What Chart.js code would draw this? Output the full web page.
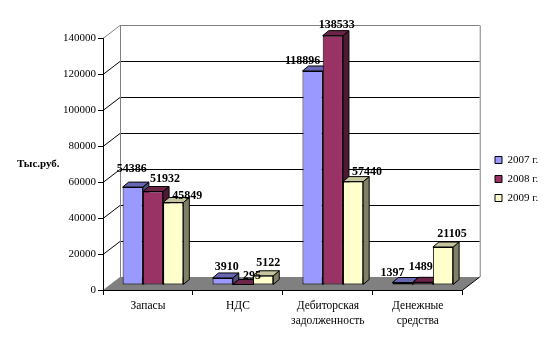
<!DOCTYPE html>
<html>
<head>
<meta charset="utf-8">
<title>Chart</title>
<script src="https://cdn.jsdelivr.net/npm/chart.js@4"></script>
<style>
html, body { margin: 0; padding: 0; background: #fff; }
canvas { display: block; }
</style>
</head>
<body>
<canvas id="myChart" width="546" height="355"></canvas>
<script>
var categories = ['Запасы', 'НДС', ['Дебиторская', 'задолженность'], ['Денежные', 'средства']];
var years = ['2007 г.', '2008 г.', '2009 г.'];
var values2007 = [54386, 3910, 118896, 1397];
var values2008 = [51932, 295, 138533, 1489];
var values2009 = [45849, 5122, 57440, 21105];
var yAxisTitle = 'Тыс.руб.';

var frontColors = ['#9999ff', '#993366', '#ffffcc'];
var topColors = ['#6666b3', '#6b2447', '#c4c49e'];
var sideColors = ['#4d4d80', '#4d1a33', '#808066'];

// where excel left each value label, relative to the top centre of its bar
var labelNudge = [
    [[-1, -18], [4, -11], [-10, -10], [-10, -10]],
    [[12, -13], [9, -9], [4, -11], [-2, -15]],
    [[14, -7], [5, -13], [14, -10], [9, -13]]
];

var depthX = 17, depthY = 13;   // back wall offset
var barX = 5, barY = 5;         // bars stand a bit behind the front edge
var sideX = 6, sideY = 5;       // bar depth

function poly(ctx, pts, fill, stroke) {
    ctx.beginPath();
    ctx.moveTo(pts[0][0], pts[0][1]);
    for (var i = 1; i < pts.length; i++) ctx.lineTo(pts[i][0], pts[i][1]);
    ctx.closePath();
    if (fill) { ctx.fillStyle = fill; ctx.fill(); }
    if (stroke) { ctx.strokeStyle = stroke; ctx.lineWidth = 1; ctx.stroke(); }
}

function line(ctx, x1, y1, x2, y2, color) {
    ctx.beginPath();
    ctx.moveTo(x1, y1);
    ctx.lineTo(x2, y2);
    ctx.strokeStyle = color;
    ctx.lineWidth = 1;
    ctx.stroke();
}

var walls3d = {
    id: 'walls3d',
    afterLayout: function (chart) {
        // legend sits away from the plot, not against it
        var lg = chart.legend;
        var w = lg.width, h = lg.height;
        lg.left = 487;
        lg.right = lg.left + w;
        lg.top -= 5;
        lg.bottom = lg.top + h;
        if (lg.adjustHitBoxes) lg.adjustHitBoxes();
    },
    beforeDraw: function (chart) {
        var ctx = chart.ctx, a = chart.chartArea, y = chart.scales.y;
        var L = a.left, R = a.right, B = a.bottom;
        ctx.save();
        poly(ctx, [[L, B], [L + depthX, B - depthY], [R + depthX, B - depthY], [R, B]], '#808080');
        y.ticks.forEach(function (t) {
            var py = Math.round(y.getPixelForValue(t.value)) + 0.5;
            if (t.value === 0) return;
            var c = t.value === y.max ? '#808080' : '#000';
            line(ctx, L, py, L + depthX, py - depthY, c);
            line(ctx, L + depthX, py - depthY, R + depthX, py - depthY, c);
        });
        var top = Math.round(y.getPixelForValue(y.max)) + 0.5 - depthY;
        line(ctx, L + depthX + 0.5, top, L + depthX + 0.5, B - depthY, '#808080');
        line(ctx, R + depthX + 0.5, top, R + depthX + 0.5, B - depthY, '#808080');
        line(ctx, R, B, R + depthX, B - depthY, '#000');
        ctx.font = 'bold 11px "Liberation Serif"';
        ctx.fillStyle = '#000';
        ctx.textAlign = 'left';
        ctx.textBaseline = 'middle';
        ctx.fillText(yAxisTitle, 17, 164);
        ctx.restore();
    },
    beforeDatasetsDraw: function (chart) {
        var ctx = chart.ctx;
        ctx.save();
        ctx.translate(barX, -barY);
        chart.data.datasets.forEach(function (ds, d) {
            chart.getDatasetMeta(d).data.forEach(function (el) {
                var l = el.x - el.width / 2, r = el.x + el.width / 2, t = el.y, b = el.base;
                poly(ctx, [[r, t], [r + sideX, t - sideY], [r + sideX, b - sideY], [r, b]], sideColors[d], '#000');
                poly(ctx, [[l, t], [l + sideX, t - sideY], [r + sideX, t - sideY], [r, t]], topColors[d], '#000');
            });
        });
    },
    afterDatasetsDraw: function (chart) {
        var ctx = chart.ctx;
        chart.data.datasets.forEach(function (ds, d) {
            chart.getDatasetMeta(d).data.forEach(function (el, i) {
                ctx.font = 'bold 12px "Liberation Serif"';
                ctx.fillStyle = '#000';
                ctx.textAlign = 'center';
                ctx.textBaseline = 'middle';
                ctx.fillText(String(ds.data[i]), el.x + labelNudge[d][i][0], el.y + labelNudge[d][i][1]);
            });
        });
        ctx.restore();
    }
};

function makeDataset(i, values) {
    return {
        label: years[i],
        data: values,
        backgroundColor: frontColors[i],
        borderColor: '#000',
        borderWidth: 1,
        borderSkipped: false,
        barPercentage: 1,
        categoryPercentage: 0.675,
        clip: false
    };
}

var ctx = document.getElementById('myChart').getContext('2d');
var myChart = new Chart(ctx, {
    type: 'bar',
    data: {
        labels: categories,
        datasets: [makeDataset(0, values2007), makeDataset(1, values2008), makeDataset(2, values2009)]
    },
    plugins: [walls3d],
    options: {
        responsive: false,
        animation: false,
        layout: { padding: { top: 38, right: 22, bottom: 25, left: 0 } },
        plugins: {
            tooltip: { enabled: false },
            legend: {
                position: 'right',
                labels: {
                    boxWidth: 7,
                    boxHeight: 7,
                    padding: 8,
                    color: '#000',
                    font: { family: '"Liberation Serif"', size: 11 }
                }
            }
        },
        scales: {
            x: {
                afterFit: function (s) { s.height = 40; },
                border: { color: '#000' },
                grid: { drawOnChartArea: false, tickLength: 5, color: '#000' },
                ticks: {
                    autoRotation: false,
                    maxRotation: 0,
                    autoSkip: false,
                    padding: 4,
                    color: '#000',
                    font: { family: '"Liberation Serif"', size: 11.5, lineHeight: 1.3 }
                }
            },
            y: {
                min: 0,
                max: 140000,
                afterFit: function (s) { s.width = 103; },
                border: { color: '#000' },
                grid: { drawOnChartArea: false, tickLength: 5, color: '#000' },
                ticks: {
                    stepSize: 20000,
                    padding: 2,
                    color: '#000',
                    font: { family: '"Liberation Serif"', size: 11 },
                    callback: function (v) { return String(v); }
                }
            }
        }
    }
});
</script>
</body>
</html>
